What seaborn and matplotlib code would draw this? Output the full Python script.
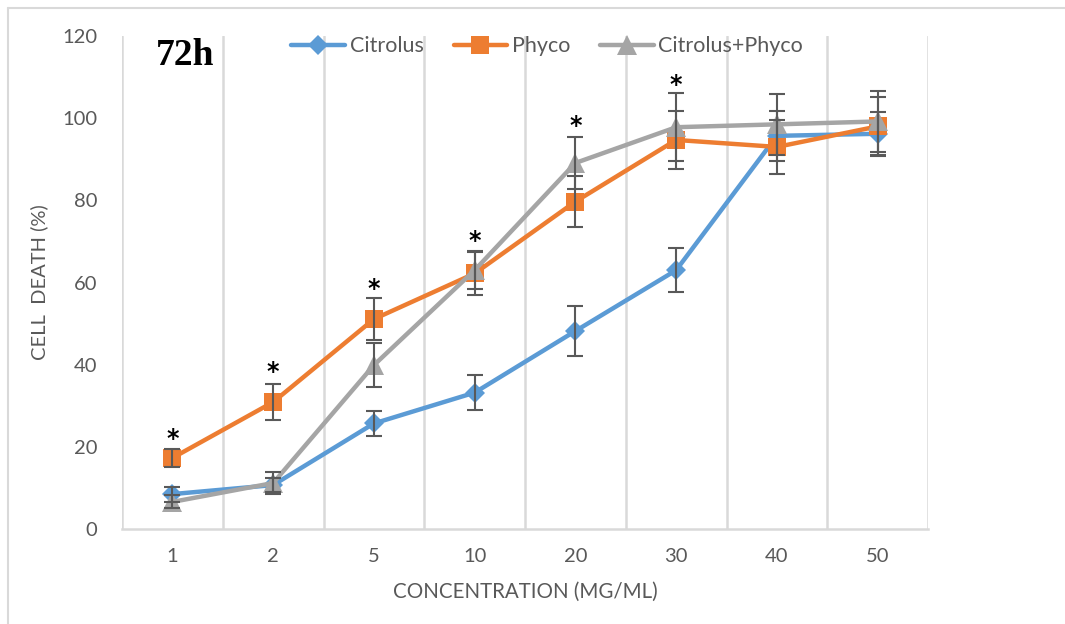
import numpy as np
import pandas as pd
import matplotlib
matplotlib.use("Agg")
import matplotlib.pyplot as plt
from matplotlib.lines import Line2D
import seaborn as sns

categories = ["1", "2", "5", "10", "20", "30", "40", "50"]
citrolus = [8.5, 10.7, 25.7, 33.2, 48.2, 63.0, 95.7, 96.2]
citrolus_err = [1.8, 1.8, 3.1, 4.2, 6.2, 5.3, 6.1, 5.2]
phyco = [17.3, 30.9, 51.1, 62.2, 79.7, 94.7, 93.0, 98.0]
phyco_err = [2.3, 4.3, 5.2, 5.2, 6.2, 7.0, 6.5, 7.2]
combo = [6.6, 11.2, 39.9, 63.0, 89.1, 97.8, 98.5, 99.2]
combo_err = [1.6, 2.7, 5.4, 4.6, 6.3, 8.3, 7.4, 7.4]
series_names = ["Citrolus", "Phyco", "Citrolus+Phyco"]
sig_idx = [0, 1, 2, 3, 4, 5]
sig_y = [21.9, 38.3, 58.4, 70.2, 98.2, 108.0]

colors = {"Citrolus": "#5B9BD5", "Phyco": "#ED7D31", "Citrolus+Phyco": "#A5A5A5"}
markers = {"Citrolus": "D", "Phyco": "s", "Citrolus+Phyco": "^"}
msizes = {"Citrolus": 10, "Phyco": 13, "Citrolus+Phyco": 14}

sns.set_style("white")
plt.rcParams['font.family'] = ['Lato', 'DejaVu Sans']

vals = [citrolus, phyco, combo]
errs = [citrolus_err, phyco_err, combo_err]
pos = np.arange(len(categories))
df = pd.concat([pd.DataFrame({"x": pos, "y": v, "err": e, "series": n})
                for n, v, e in zip(series_names, vals, errs)], ignore_index=True)

fig = plt.figure(figsize=(10.65, 6.24), dpi=100)
ax = fig.add_axes([0.1146, 0.1522, 0.7568, 0.7901])

# figure border
fig.add_artist(Line2D([0.0075, 1.0], [0.987, 0.987], transform=fig.transFigure, color="#d9d9d9", lw=1.5))
fig.add_artist(Line2D([0.0075, 0.0075], [0.0, 0.987], transform=fig.transFigure, color="#d9d9d9", lw=1.5))

for i, n in enumerate(series_names):
    sub = df[df.series == n]
    sns.lineplot(data=sub, x="x", y="y", ax=ax, color=colors[n], lw=3.2,
                 marker=markers[n], markersize=msizes[n], markeredgewidth=0,
                 label=n, zorder=3 + i, errorbar=None, sort=False)
for i, n in enumerate(series_names):
    sub = df[df.series == n]
    ax.errorbar(sub.x, sub.y, yerr=sub.err, fmt="none", ecolor="#595959",
                elinewidth=1.5, capsize=6, capthick=1.5, zorder=7)

for xi, yi in zip(sig_idx, sig_y):
    ax.text(xi, yi, "*", ha="center", va="center", fontsize=17, fontweight="bold",
            color="black", family="DejaVu Sans", zorder=8)

ax.set_xlim(-0.5, len(categories) - 0.5)
ax.set_ylim(0, 120)
ax.set_yticks(range(0, 121, 20))
ax.set_xticks(pos)
ax.set_xticklabels(categories)
for b in np.arange(-0.5, len(categories), 1.0):
    ax.axvline(b, color="#d9d9d9", lw=1.8, zorder=1)
for s in ["top", "right", "left"]:
    ax.spines[s].set_visible(False)
ax.spines["bottom"].set_color("#d9d9d9")
ax.spines["bottom"].set_linewidth(1.8)
ax.tick_params(axis="both", length=0, labelsize=14.5, labelcolor="#595959")
ax.tick_params(axis="x", pad=14)
ax.tick_params(axis="y", pad=18)
ax.set_xlabel("CONCENTRATION (MG/ML)", fontsize=14.8, color="#595959", labelpad=12)
ax.set_ylabel("CELL  DEATH (%)", fontsize=14.5, color="#595959", labelpad=10)

ax.text(0.042, 0.96, "72h", transform=ax.transAxes, fontsize=27, fontweight="bold",
        family="Liberation Serif", ha="left", va="center", color="black")

ax.legend(loc="center left", bbox_to_anchor=(0.2554, 0.926), bbox_transform=fig.transFigure,
          ncol=3, frameon=False, fontsize=15.5, handlelength=2.5, columnspacing=1.4,
          handletextpad=0.2, labelcolor="#595959", markerscale=1.0)

fig.savefig("out.png", dpi=100)
